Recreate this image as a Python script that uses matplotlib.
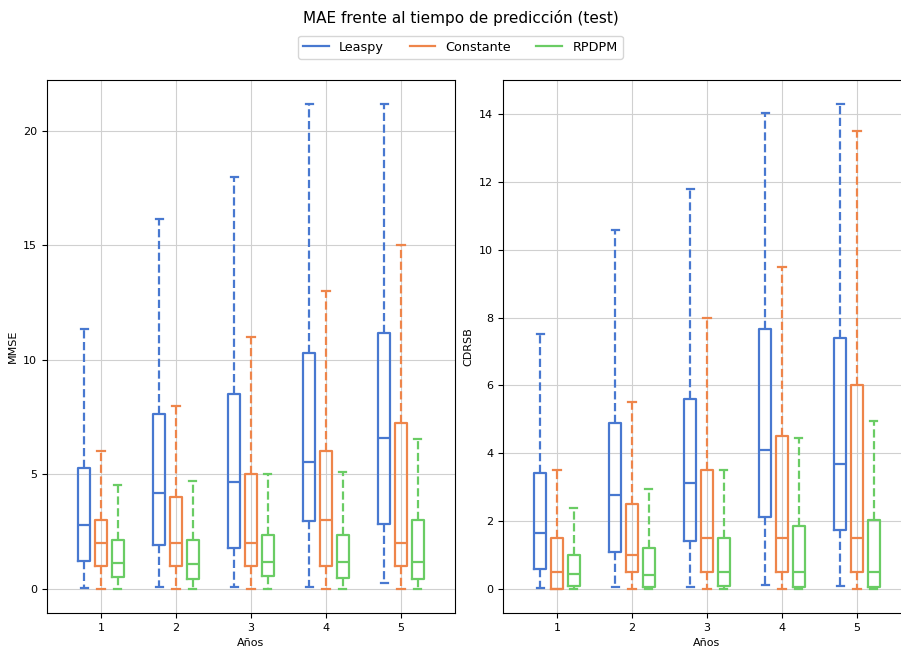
import matplotlib.pyplot as plt

# =========================================================
# MAE frente al tiempo de predicción (test)
# Estadísticos: [bigote inf, Q1, mediana, Q3, bigote sup]
# =========================================================

anios = [1, 2, 3, 4, 5]
modelos = ["Leaspy", "Constante", "RPDPM"]
colores = ["#4878d0", "#ee854a", "#6acc64"]

# ---- MMSE ----
mmse_leaspy = [
    [0.05, 1.22, 2.80, 5.27, 11.37],
    [0.09, 1.91, 4.19, 7.65, 16.14],
    [0.06, 1.78, 4.65, 8.49, 18.00],
    [0.08, 2.97, 5.54, 10.30, 21.17],
    [0.27, 2.83, 6.58, 11.16, 21.17],
]
mmse_constante = [
    [0.0, 1.0, 2.0, 3.0, 6.0],
    [0.0, 1.0, 2.0, 4.0, 8.0],
    [0.0, 1.0, 2.0, 5.0, 11.0],
    [0.0, 1.0, 3.0, 6.0, 13.0],
    [0.0, 1.0, 2.0, 7.24, 15.0],
]
mmse_rpdpm = [
    [0.0, 0.51, 1.13, 2.11, 4.52],
    [0.0, 0.42, 1.10, 2.15, 4.73],
    [0.0, 0.54, 1.19, 2.35, 5.03],
    [0.0, 0.48, 1.17, 2.33, 5.11],
    [0.0, 0.44, 1.17, 3.01, 6.55],
]

# ---- CDRSB ----
cdrsb_leaspy = [
    [0.03, 0.59, 1.65, 3.42, 7.51],
    [0.04, 1.08, 2.77, 4.89, 10.58],
    [0.06, 1.41, 3.11, 5.60, 11.78],
    [0.10, 2.13, 4.10, 7.67, 14.04],
    [0.08, 1.74, 3.68, 7.39, 14.29],
]
cdrsb_constante = [
    [0.0, 0.0, 0.5, 1.5, 3.5],
    [0.0, 0.5, 1.0, 2.5, 5.5],
    [0.0, 0.5, 1.5, 3.5, 8.0],
    [0.0, 0.5, 1.5, 4.5, 9.5],
    [0.0, 0.5, 1.5, 6.0, 13.5],
]
cdrsb_rpdpm = [
    [0.0, 0.08, 0.43, 1.00, 2.37],
    [0.0, 0.04, 0.40, 1.21, 2.95],
    [0.0, 0.08, 0.50, 1.50, 3.50],
    [0.0, 0.05, 0.50, 1.84, 4.45],
    [0.0, 0.05, 0.50, 2.03, 4.95],
]

paneles = [
    ("MMSE", [mmse_leaspy, mmse_constante, mmse_rpdpm], [0, 5, 10, 15, 20]),
    ("CDRSB", [cdrsb_leaspy, cdrsb_constante, cdrsb_rpdpm], [0, 2, 4, 6, 8, 10, 12, 14]),
]

desplaz = [-0.222, 0.0, 0.222]
ancho = 0.16

fig = plt.figure(figsize=(9.01, 6.48), dpi=100)
ejes = [
    fig.add_axes([0.0522, 0.054, 0.4528, 0.8225]),
    fig.add_axes([0.5583, 0.054, 0.4528, 0.8225]),
]

for ax, (nombre, series, yticks) in zip(ejes, paneles):
    for serie, color, dx in zip(series, colores, desplaz):
        stats = []
        for s in serie:
            stats.append({"whislo": s[0], "q1": s[1], "med": s[2],
                          "q3": s[3], "whishi": s[4], "fliers": []})
        ax.bxp(
            stats,
            positions=[a + dx for a in anios],
            widths=ancho,
            capwidths=0.1,
            showfliers=False,
            manage_ticks=False,
            boxprops=dict(color=color, linewidth=1.6),
            medianprops=dict(color=color, linewidth=1.6),
            whiskerprops=dict(color=color, linewidth=1.6, linestyle="--"),
            capprops=dict(color=color, linewidth=1.6),
        )
    ax.set_xlim(0.28, 5.72)
    ax.set_xticks(anios)
    ax.set_xticklabels([str(a) for a in anios])
    ax.set_yticks(yticks)
    ax.tick_params(labelsize=8)
    ax.grid(True, color="#d0d0d0", linewidth=0.8)
    ax.set_axisbelow(True)
    ax.set_xlabel("Años", fontsize=8)
    ax.set_ylabel(nombre, fontsize=8)

fig.suptitle("MAE frente al tiempo de predicción (test)", fontsize=11,
             x=0.511, y=0.985)
manejadores = [plt.Line2D([], [], color=c, linewidth=1.6) for c in colores]
fig.legend(manejadores, modelos, loc="upper center", ncol=3,
           bbox_to_anchor=(0.511, 0.955), fontsize=9.2, frameon=True)

plt.savefig("out.png", dpi=100)
plt.close()
